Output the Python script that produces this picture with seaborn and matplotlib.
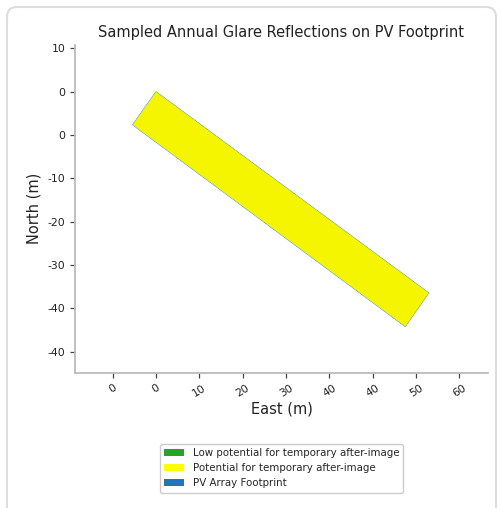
import matplotlib
matplotlib.use("Agg")
import matplotlib.pyplot as plt
from matplotlib.patches import Patch, FancyBboxPatch
import seaborn as sns

# PV footprint corners (East, North) in metres
footprint_east = [4.8, 52.6, 48.5, 0.7]
footprint_north = [2.8, -32.5, -38.4, -3.0]

# Glare reflections sampled over the footprint share the same outline
glare_east = [4.8, 52.6, 48.5, 0.7]
glare_north = [2.8, -32.5, -38.4, -3.0]

# Axis ticks and their printed labels
x_ticks = [-2.8, 4.8, 12.4, 20.0, 27.6, 35.2, 42.8, 50.4, 58.0]
x_tick_labels = ["0", "0", "10", "20", "30", "40", "40", "50", "60"]
y_ticks = [10.4, 2.8, -4.8, -12.4, -20.0, -27.6, -35.2, -42.8]
y_tick_labels = ["10", "0", "0", "-10", "-20", "-30", "-40", "-40"]

legend_labels = [
    "Low potential for temporary after-image",
    "Potential for temporary after-image",
    "PV Array Footprint",
]
legend_colors = ["#2ca02c", "#ffff00", "#1f77b4"]

sns.set_theme(style="ticks")
plt.rcParams["font.family"] = ["DejaVu Sans"]

fig = plt.figure(figsize=(5.0, 5.08), dpi=100)
ax = fig.add_axes([0.15, 0.2663, 0.826, 0.6451])

# footprint outline underneath, glare on top
ax.fill(footprint_east, footprint_north, facecolor="#1f77b4", edgecolor="#5aa0c8",
        linewidth=0.7)
ax.fill(glare_east, glare_north, facecolor="#f5f500", linewidth=0)

ax.set_xlim(-9.4, 63.0)
ax.set_ylim(-46.5, 11.0)

ax.set_xticks(x_ticks)
ax.set_xticklabels(x_tick_labels, rotation=32, ha="center")
ax.set_yticks(y_ticks)
ax.set_yticklabels(y_tick_labels)
ax.tick_params(axis="both", labelsize=7.8, colors="#444444", length=3.5, width=0.9,
               labelcolor="#222222")

sns.despine(ax=ax)
for side in ("left", "bottom"):
    ax.spines[side].set_color("#bbbbbb")
    ax.spines[side].set_linewidth(1.3)

ax.set_title("Sampled Annual Glare Reflections on PV Footprint", fontsize=10.5,
             color="#222222", pad=6)
ax.set_xlabel("East (m)", fontsize=10.5, color="#222222", labelpad=2)
ax.set_ylabel("North (m)", fontsize=10.5, color="#222222", labelpad=4)

handles = [Patch(facecolor=c, edgecolor="none") for c in legend_colors]
ax.legend(handles, legend_labels, loc="upper center", bbox_to_anchor=(0.5, -0.202),
          fontsize=7.4, frameon=True, fancybox=True, edgecolor="#cccccc",
          framealpha=1.0, handleheight=0.7, labelspacing=0.5)

# card outline around the figure
card = FancyBboxPatch((7, 7), 489, 520, boxstyle="round,pad=0,rounding_size=10",
                      transform=None, facecolor="none", edgecolor="#dddddd",
                      linewidth=1.5)
card.set_bounds(7, 508 - 7 - 520, 489, 520)
fig.patches.append(card)

fig.savefig("out.png", dpi=100)
